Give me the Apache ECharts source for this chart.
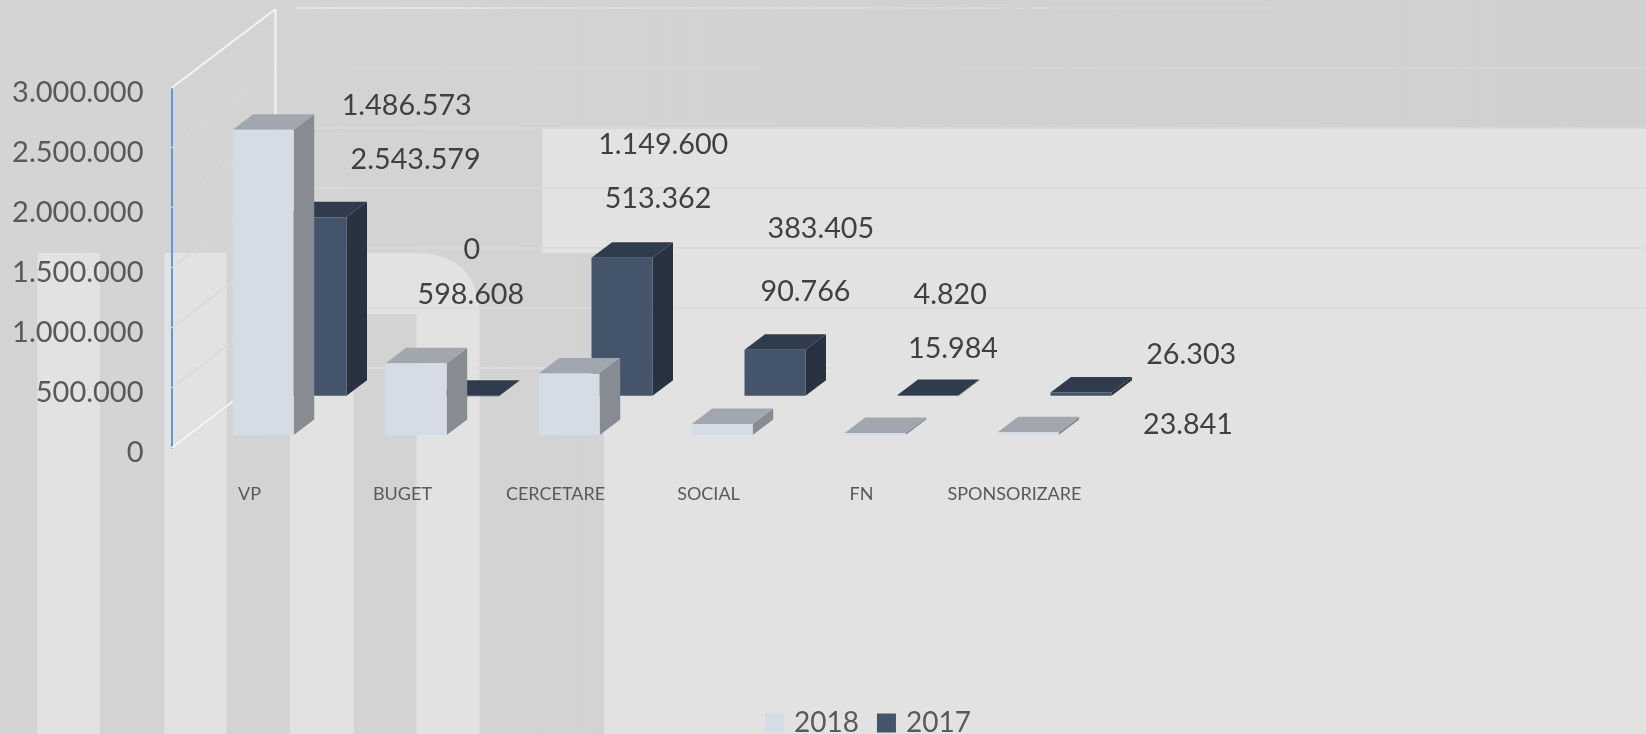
<!DOCTYPE html>
<html>
<head>
<meta charset="utf-8">
<style>html,body{margin:0;padding:0;background:#e2e2e2}#c{width:1646px;height:734px}</style>
<script src="https://cdn.jsdelivr.net/npm/echarts@6/dist/echarts.min.js"></script>
</head>
<body>
<div id="c"></div>
<script>
var categories = ['VP','BUGET','CERCETARE','SOCIAL','FN','SPONSORIZARE'];
var values2018 = [2543579,598608,513362,90766,15984,23841];
var values2017 = [1486573,0,1149600,383405,4820,26303];
var yTicks = [0,500000,1000000,1500000,2000000,2500000,3000000];

// label nudges, relative to the top centre of each bar (px)
var labelNudge2018 = [[152.4,30.2],[54.6,-68.2],[88.8,-174.4],[83.3,-132.1],[77.8,-84.1],[159.8,-7.6]];
var labelNudge2017 = [[90.7,-111.3],[2.7,-145.7],[41.2,-112.7],[45.8,-120.7],[22.2,-100.6],[110.2,-37.5]];

var FONT = 'Lato';
var LIGHT = '#e2e2e2';
function fmt(v){ return String(v).replace(/\B(?=(\d{3})+(?!\d))/g,'.'); }

function barRenderer(opt){
  return function(params, api){
    var i = api.value(0), v = api.value(1);
    var p0 = api.coord([i,0]), p1 = api.coord([i,v]);
    var w = opt.width, dx = 20.5, dy = 15.5;
    var xl = p0[0] + opt.offsetX, xr = xl + w;
    var yb = p0[1] - opt.lift, yt = yb - (p0[1]-p1[1]);
    var n = opt.nudge[i];
    return {type:'group', children:[
      {type:'polygon', shape:{points:[[xr,yb],[xr+dx,yb-dy],[xr+dx,yt-dy],[xr,yt]]}, style:{fill:opt.side}},
      {type:'polygon', shape:{points:[[xl,yt],[xl+dx,yt-dy],[xr+dx,yt-dy],[xr,yt]]}, style:{fill:opt.top}},
      {type:'rect', shape:{x:xl,y:yt,width:w,height:Math.max(yb-yt,0.6)}, style:{fill:opt.front}},
      {type:'text', z2:50, style:{text:fmt(v), x:xl+w/2+n[0], y:yt+n[1], align:'center', verticalAlign:'middle',
        fontFamily:FONT, fontSize:28.7, fill:'#404040'}}
    ]};
  };
}

function wallRenderer(params, api){
  var v = api.value(0);
  var x0 = params.coordSys.x, y = api.coord([0,v])[1];
  var wx = 104, wy = 79;
  var isEdge = (v===0 || v===3000000);
  var kids = [{type:'line', shape:{x1:x0,y1:y,x2:x0+wx,y2:y-wy},
    style:{stroke:isEdge?'#f4f4f4':'#d9d9d9', lineWidth:isEdge?2:1.5}}];
  if (v===3000000){
    kids.push({type:'line', shape:{x1:x0+wx,y1:y-wy,x2:x0+wx,y2:y+wy*3.6}, style:{stroke:'#f4f4f4',lineWidth:2}});
    kids.push({type:'line', shape:{x1:x0+wx+20,y1:y-wy-1,x2:1270,y2:y-wy-1},
      style:{lineWidth:1.5, stroke:{type:'linear',global:true,x:296,y:0,x2:1270,y2:0,colorStops:[
        {offset:0,color:'rgba(240,240,240,.7)'},{offset:.6,color:'rgba(235,235,235,.4)'},{offset:1,color:'rgba(230,230,230,.2)'}]}}});
  } else {
    kids.push({type:'line', shape:{x1:x0+wx,y1:y-wy-1,x2:1646,y2:y-wy-1},
      style:{stroke:v===0?'#dedede':(v===2500000?'#d6d6d6':'#dadada'), lineWidth:1.5}});
  }
  return {type:'group', children:kids};
}

function rect(x,y,w,h,fill){ return {type:'rect',z:-10,silent:true,shape:{x:x,y:y,width:w,height:h},style:{fill:fill}}; }
// watermark letter behind the plot: stem, rounded bowl, second stem
function letterOutline(){
  var pts = [[290,734],[290,253],[415,253]];
  for (var t=0.1;t<=1.001;t+=0.1){
    var a=(1-t)*(1-t), b=2*t*(1-t), c=t*t;
    pts.push([a*415+b*474+c*479.5, a*253+b*253+c*308]);
  }
  return pts.concat([[479.5,734],[416.5,734],[416.5,314],[354,314],[354,734]]);
}

var chart = echarts.init(document.getElementById('c'), null, {renderer:'canvas'});
chart.setOption({
  animation:false,
  backgroundColor:LIGHT,
  textStyle:{fontFamily:FONT},
  graphic:{elements:[
    rect(0,0,1646,734,{type:'linear',x:0,y:0,x2:1,y2:0,colorStops:[{offset:0,color:'#d4d4d4'},{offset:1,color:'#d0d0d0'}]}),
    rect(37.5,253,62.5,481,LIGHT),
    rect(164.5,253,62,481,LIGHT),
    {type:'polygon',z:-10,silent:true,shape:{points:letterOutline()},style:{fill:LIGHT}},
    rect(542,129,1104,124,LIGHT),
    rect(604,253,1042,481,LIGHT)
  ]},
  legend:{
    left:765, top:709, padding:0, itemWidth:19, itemHeight:19, itemGap:18, icon:'rect',
    data:['2018','2017'],
    textStyle:{fontFamily:FONT,fontSize:28,lineHeight:22,color:'#595959',padding:[0,0,0,5]}
  },
  grid:{left:171.5, top:88, width:918, height:360, containLabel:false},
  xAxis:{type:'category', data:categories, boundaryGap:true,
    axisLine:{show:false}, axisTick:{show:false},
    axisLabel:{interval:0, margin:37, fontFamily:FONT, fontSize:18, color:'#595959', padding:[0,0,0,3]}},
  yAxis:{type:'value', min:0, max:3000000, interval:500000,
    axisLine:{show:true, lineStyle:{color:'#5b9bd5', width:2}}, axisTick:{show:false}, splitLine:{show:false},
    axisLabel:{margin:28, fontFamily:FONT, fontSize:29, color:'#595959', verticalAlign:'top', lineHeight:10, formatter:fmt}},
  series:[
    {name:'wall', type:'custom', silent:true, z:1, data:yTicks.map(function(v){return [v];}), encode:{y:0}, renderItem:wallRenderer},
    {name:'2017', type:'custom', z:3, itemStyle:{color:'#44546a'},
      data:values2017.map(function(v,i){return [i,v];}), encode:{x:0,y:1},
      renderItem:barRenderer({width:61,offsetX:37.5,lift:52.3,front:'#44546a',top:'#303c4d',side:'#29333f',nudge:labelNudge2017})},
    {name:'2018', type:'custom', z:4, itemStyle:{color:'#d6dce5'},
      data:values2018.map(function(v,i){return [i,v];}), encode:{x:0,y:1},
      renderItem:barRenderer({width:61,offsetX:-15.3,lift:13,front:'#d6dce5',top:'#a2a6ae',side:'#878b92',nudge:labelNudge2018})}
  ]
});
</script>
</body>
</html>
